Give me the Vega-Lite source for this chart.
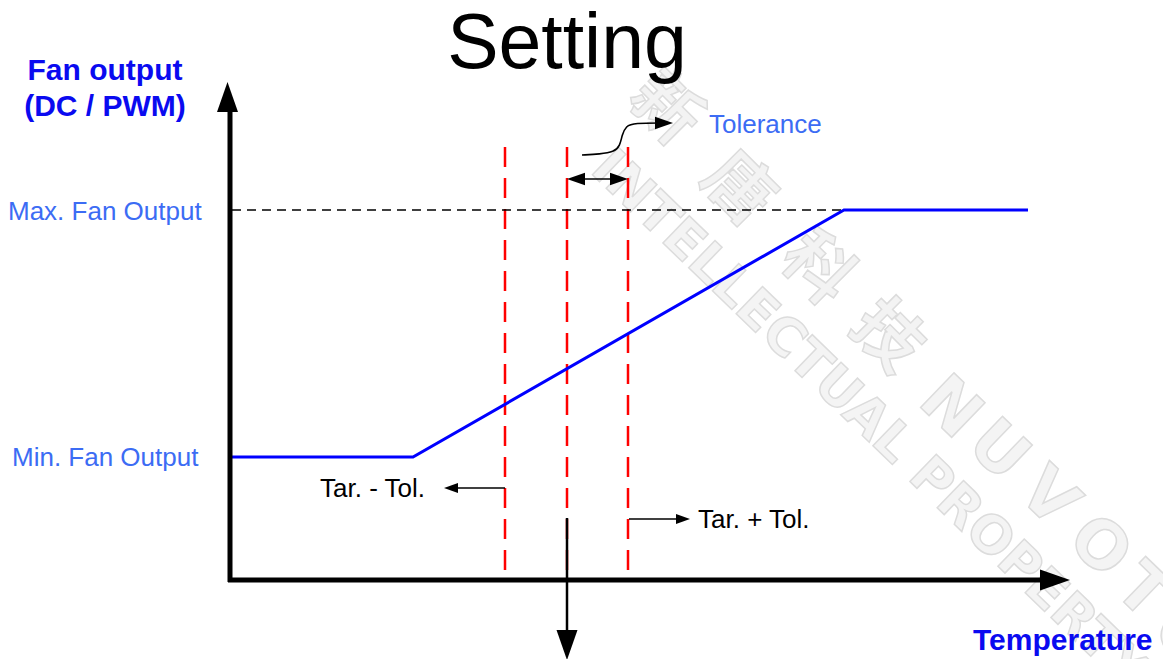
{
  "$schema": "https://vega.github.io/schema/vega-lite/v6.json",
  "width": 1163,
  "height": 659,
  "padding": 0,
  "autosize": {"type": "none"},
  "background": "white",
  "config": {"view": {"stroke": null}},
  "datasets": {
    "segments": [
      {"id": "xaxis", "part": "axis", "o": 0, "x": 228, "y": 580},
      {"id": "xaxis", "part": "axis", "o": 1, "x": 1056, "y": 580},
      {"id": "yaxis", "part": "axis", "o": 0, "x": 230, "y": 582},
      {"id": "yaxis", "part": "axis", "o": 1, "x": 230, "y": 100},
      {"id": "target", "part": "down", "o": 0, "x": 567, "y": 518},
      {"id": "target", "part": "down", "o": 1, "x": 567, "y": 645},
      {"id": "tarminus", "part": "thin", "o": 0, "x": 505, "y": 488},
      {"id": "tarminus", "part": "thin", "o": 1, "x": 451, "y": 488},
      {"id": "tarplus", "part": "thin", "o": 0, "x": 629, "y": 519},
      {"id": "tarplus", "part": "thin", "o": 1, "x": 683, "y": 519},
      {"id": "tolwidth", "part": "thin", "o": 0, "x": 576, "y": 179},
      {"id": "tolwidth", "part": "thin", "o": 1, "x": 619, "y": 179},
      {"id": "curl", "part": "curl", "o": 0, "x": 582, "y": 155},
      {"id": "curl", "part": "curl", "o": 1, "x": 600, "y": 154},
      {"id": "curl", "part": "curl", "o": 2, "x": 614, "y": 152},
      {"id": "curl", "part": "curl", "o": 3, "x": 620, "y": 146},
      {"id": "curl", "part": "curl", "o": 4, "x": 622, "y": 135},
      {"id": "curl", "part": "curl", "o": 5, "x": 626, "y": 126},
      {"id": "curl", "part": "curl", "o": 6, "x": 634, "y": 123},
      {"id": "curl", "part": "curl", "o": 7, "x": 664, "y": 123},
      {"id": "fan", "part": "fan", "o": 0, "x": 230, "y": 457},
      {"id": "fan", "part": "fan", "o": 1, "x": 413, "y": 457},
      {"id": "fan", "part": "fan", "o": 2, "x": 844, "y": 210},
      {"id": "fan", "part": "fan", "o": 3, "x": 1028, "y": 210},
      {"id": "maxlevel", "part": "maxdash", "o": 0, "x": 232, "y": 210},
      {"id": "maxlevel", "part": "maxdash", "o": 1, "x": 844, "y": 210},
      {"id": "tarminustol", "part": "red", "o": 0, "x": 505, "y": 147},
      {"id": "tarminustol", "part": "red", "o": 1, "x": 505, "y": 578},
      {"id": "tar", "part": "red", "o": 0, "x": 567, "y": 147},
      {"id": "tar", "part": "red", "o": 1, "x": 567, "y": 578},
      {"id": "tarplustol", "part": "red", "o": 0, "x": 628, "y": 147},
      {"id": "tarplustol", "part": "red", "o": 1, "x": 628, "y": 578}
    ],
    "heads": [
      {"kind": "axis", "dir": "right", "x": 1055, "y": 580},
      {"kind": "axis", "dir": "up", "x": 227.5, "y": 97},
      {"kind": "axis", "dir": "down", "x": 567, "y": 645},
      {"kind": "tol", "dir": "left", "x": 576, "y": 179},
      {"kind": "tol", "dir": "right", "x": 619, "y": 179},
      {"kind": "tol", "dir": "right", "x": 664, "y": 123},
      {"kind": "tar", "dir": "left", "x": 451, "y": 488},
      {"kind": "tar", "dir": "right", "x": 683, "y": 519}
    ],
    "labels": [
      {"kind": "title", "text": "Setting", "x": 567, "y": 68},
      {"kind": "ylabel", "text": "Fan output", "x": 105, "y": 80},
      {"kind": "ylabel", "text": "(DC / PWM)", "x": 105, "y": 116},
      {"kind": "level", "text": "Max. Fan Output", "x": 8, "y": 220},
      {"kind": "level", "text": "Min. Fan Output", "x": 12, "y": 466},
      {"kind": "tol", "text": "Tolerance", "x": 709, "y": 133},
      {"kind": "tar", "text": "Tar. - Tol.", "x": 320, "y": 497},
      {"kind": "tar", "text": "Tar. + Tol.", "x": 698, "y": 528},
      {"kind": "xlabel", "text": "Temperature", "x": 973, "y": 650}
    ],
    "watermark": [
      {"kind": "cjk", "text": "新", "x": 664, "y": 110},
      {"kind": "cjk", "text": "唐", "x": 737, "y": 190},
      {"kind": "cjk", "text": "科", "x": 816, "y": 270},
      {"kind": "cjk", "text": "技", "x": 886, "y": 338},
      {"kind": "latin", "text": "N", "x": 950, "y": 408},
      {"kind": "latin", "text": "U", "x": 998, "y": 451},
      {"kind": "latin", "text": "V", "x": 1048, "y": 498},
      {"kind": "latin", "text": "O", "x": 1099, "y": 547},
      {"kind": "latin", "text": "T", "x": 1142, "y": 592},
      {"kind": "latin", "text": "O", "x": 1184, "y": 638},
      {"kind": "line", "text": "INTELLECTUAL PROPERTY", "x": 600, "y": 160}
    ]
  },
  "encoding": {
    "x": {"field": "x", "type": "quantitative", "scale": {"domain": [0, 1163], "nice": false, "zero": false}, "axis": null},
    "y": {"field": "y", "type": "quantitative", "scale": {"domain": [0, 659], "nice": false, "zero": false, "reverse": true}, "axis": null}
  },
  "layer": [
    {
      "data": {"name": "watermark"},
      "transform": [{"filter": "datum.kind === 'cjk'"}],
      "mark": {"type": "text", "font": "Noto Sans CJK SC", "fontSize": 68, "fontWeight": "bold", "angle": 45, "align": "center", "baseline": "middle", "fill": "#f3f3f3", "stroke": "#dcdcdc", "strokeWidth": 1.5},
      "encoding": {"text": {"field": "text"}}
    },
    {
      "data": {"name": "watermark"},
      "transform": [{"filter": "datum.kind === 'latin'"}],
      "mark": {"type": "text", "font": "DejaVu Sans", "fontSize": 66, "fontWeight": "bold", "angle": 44, "align": "center", "baseline": "middle", "fill": "#f4f4f4", "stroke": "#dcdcdc", "strokeWidth": 1.5},
      "encoding": {"text": {"field": "text"}}
    },
    {
      "data": {"name": "watermark"},
      "transform": [{"filter": "datum.kind === 'line'"}],
      "mark": {"type": "text", "font": "DejaVu Sans", "fontSize": 52, "fontWeight": "bold", "angle": 44, "align": "left", "baseline": "middle", "fill": "#f4f4f4", "stroke": "#dcdcdc", "strokeWidth": 1.5},
      "encoding": {"text": {"field": "text"}}
    },
    {
      "data": {"name": "segments"},
      "transform": [{"filter": "datum.part === 'red'"}],
      "mark": {"type": "line", "color": "#ff0000", "strokeWidth": 2.5, "strokeDash": [20, 11]},
      "encoding": {"detail": {"field": "id"}, "order": {"field": "o"}}
    },
    {
      "data": {"name": "segments"},
      "transform": [{"filter": "datum.part === 'maxdash'"}],
      "mark": {"type": "line", "color": "#000000", "strokeWidth": 1.3, "strokeDash": [9, 6]},
      "encoding": {"detail": {"field": "id"}, "order": {"field": "o"}}
    },
    {
      "data": {"name": "segments"},
      "transform": [{"filter": "datum.part === 'fan'"}],
      "mark": {"type": "line", "color": "#0000ff", "strokeWidth": 3},
      "encoding": {"detail": {"field": "id"}, "order": {"field": "o"}}
    },
    {
      "data": {"name": "segments"},
      "transform": [{"filter": "datum.part === 'axis'"}],
      "mark": {"type": "line", "color": "#000000", "strokeWidth": 5},
      "encoding": {"detail": {"field": "id"}, "order": {"field": "o"}}
    },
    {
      "data": {"name": "segments"},
      "transform": [{"filter": "datum.part === 'down'"}],
      "mark": {"type": "line", "color": "#000000", "strokeWidth": 2.5},
      "encoding": {"detail": {"field": "id"}, "order": {"field": "o"}}
    },
    {
      "data": {"name": "segments"},
      "transform": [{"filter": "datum.part === 'thin'"}],
      "mark": {"type": "line", "color": "#000000", "strokeWidth": 1.6},
      "encoding": {"detail": {"field": "id"}, "order": {"field": "o"}}
    },
    {
      "data": {"name": "segments"},
      "transform": [{"filter": "datum.part === 'curl'"}],
      "mark": {"type": "line", "color": "#000000", "strokeWidth": 1.6, "interpolate": "basis"},
      "encoding": {"detail": {"field": "id"}, "order": {"field": "o"}}
    },
    {
      "data": {"name": "heads"},
      "transform": [{"filter": "datum.kind === 'axis'"}],
      "mark": {"type": "point", "filled": true, "color": "#000000", "opacity": 1, "size": 900, "strokeWidth": 0},
      "encoding": {"shape": {"field": "dir", "type": "nominal", "legend": null, "scale": {"domain": ["right", "left", "up", "down"], "range": ["M1,0L-1,-0.7L-1,0.7Z", "M-1,0L1,-0.7L1,0.7Z", "M0,-1L-0.7,1L0.7,1Z", "M0,1L-0.7,-1L0.7,-1Z"]}}}
    },
    {
      "data": {"name": "heads"},
      "transform": [{"filter": "datum.kind === 'tol'"}],
      "mark": {"type": "point", "filled": true, "color": "#000000", "opacity": 1, "size": 324, "strokeWidth": 0},
      "encoding": {"shape": {"field": "dir", "type": "nominal", "legend": null, "scale": {"domain": ["right", "left", "up", "down"], "range": ["M1,0L-1,-0.7L-1,0.7Z", "M-1,0L1,-0.7L1,0.7Z", "M0,-1L-0.7,1L0.7,1Z", "M0,1L-0.7,-1L0.7,-1Z"]}}}
    },
    {
      "data": {"name": "heads"},
      "transform": [{"filter": "datum.kind === 'tar'"}],
      "mark": {"type": "point", "filled": true, "color": "#000000", "opacity": 1, "size": 196, "strokeWidth": 0},
      "encoding": {"shape": {"field": "dir", "type": "nominal", "legend": null, "scale": {"domain": ["right", "left", "up", "down"], "range": ["M1,0L-1,-0.7L-1,0.7Z", "M-1,0L1,-0.7L1,0.7Z", "M0,-1L-0.7,1L0.7,1Z", "M0,1L-0.7,-1L0.7,-1Z"]}}}
    },
    {
      "data": {"name": "labels"},
      "transform": [{"filter": "datum.kind === 'title'"}],
      "mark": {"type": "text", "font": "Liberation Sans", "fontSize": 77, "align": "center", "baseline": "alphabetic", "color": "#000000"},
      "encoding": {"text": {"field": "text"}}
    },
    {
      "data": {"name": "labels"},
      "transform": [{"filter": "datum.kind === 'ylabel'"}],
      "mark": {"type": "text", "font": "Liberation Sans", "fontSize": 30, "fontWeight": "bold", "align": "center", "baseline": "alphabetic", "color": "#0a0af0"},
      "encoding": {"text": {"field": "text"}}
    },
    {
      "data": {"name": "labels"},
      "transform": [{"filter": "datum.kind === 'xlabel'"}],
      "mark": {"type": "text", "font": "Liberation Sans", "fontSize": 30, "fontWeight": "bold", "align": "left", "baseline": "alphabetic", "color": "#0a0af0"},
      "encoding": {"text": {"field": "text"}}
    },
    {
      "data": {"name": "labels"},
      "transform": [{"filter": "datum.kind === 'level' || datum.kind === 'tol'"}],
      "mark": {"type": "text", "font": "Liberation Sans", "fontSize": 26, "align": "left", "baseline": "alphabetic", "color": "#3c6cf4"},
      "encoding": {"text": {"field": "text"}}
    },
    {
      "data": {"name": "labels"},
      "transform": [{"filter": "datum.kind === 'tar'"}],
      "mark": {"type": "text", "font": "Liberation Sans", "fontSize": 26, "align": "left", "baseline": "alphabetic", "color": "#000000"},
      "encoding": {"text": {"field": "text"}}
    }
  ]
}
